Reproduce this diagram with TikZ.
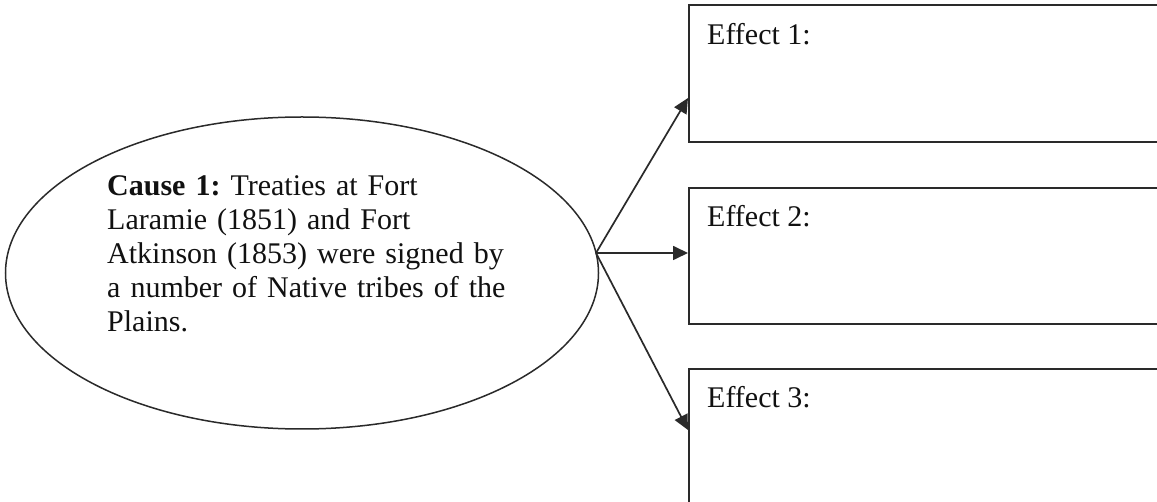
\documentclass[tikz,border=0pt]{standalone}
\usepackage{fontspec}
\setmainfont{Liberation Serif}
\usetikzlibrary{arrows.meta,shapes.geometric}
\definecolor{inkline}{HTML}{2A2A2A}
\definecolor{inktext}{HTML}{111111}
\frenchspacing
\begin{document}
\begin{tikzpicture}[x=1pt,y=-1pt,
  causeshape/.style={ellipse, draw=inkline, line width=1.5pt, inner sep=0pt,
    minimum width=593pt, minimum height=312pt},
  causetext/.style={anchor=base west, inner sep=0pt, text width=430pt, align=left,
    text=inktext, font=\frenchspacing\fontsize{30}{34}\selectfont},
  effbox/.style={draw=inkline, line width=2pt, rectangle, anchor=north west,
    inner sep=0pt, minimum width=520pt},
  efftext/.style={anchor=base west, inner sep=0pt, text=inktext,
    font=\fontsize{30}{34}\selectfont},
  conn/.style={draw=inkline, line width=1.7pt, -{Triangle[length=15pt,width=14pt]}}]
\useasboundingbox (0,0) rectangle (1157,502);
\clip (0,0) rectangle (1157,502);
\fill[white] (0,0) rectangle (1157,502);
% cause
\node[causeshape] (cause) at (302,273) {};
\node[causetext] (causetxt) at (107,196) {\textbf{Cause 1:} Treaties at Fort\\
Laramie (1851) and Fort\\
Atkinson (1853) were signed by\\
a number of Native tribes of the\\
Plains.};
% effects
\node[effbox, minimum height=137pt] (e1) at (688,4) {};
\node[effbox, minimum height=136pt] (e2) at (688,187) {};
\node[effbox, minimum height=200pt] (e3) at (688,368) {};
\node[efftext] (e1t) at (707,45) {Effect 1:};
\node[efftext] (e2t) at (707,227) {Effect 2:};
\node[efftext] (e3t) at (707,408) {Effect 3:};
% connectors
\coordinate (src) at (596,253);
\coordinate (t1) at (e1.west |- 0,98);
\coordinate (t2) at (e2.west |- 0,253);
\coordinate (t3) at (e3.west |- 0,430);
\draw[conn] (src) -- (t1);
\draw[conn] (src) -- (t2);
\draw[conn] (src) -- (t3);
\end{tikzpicture}
\end{document}
